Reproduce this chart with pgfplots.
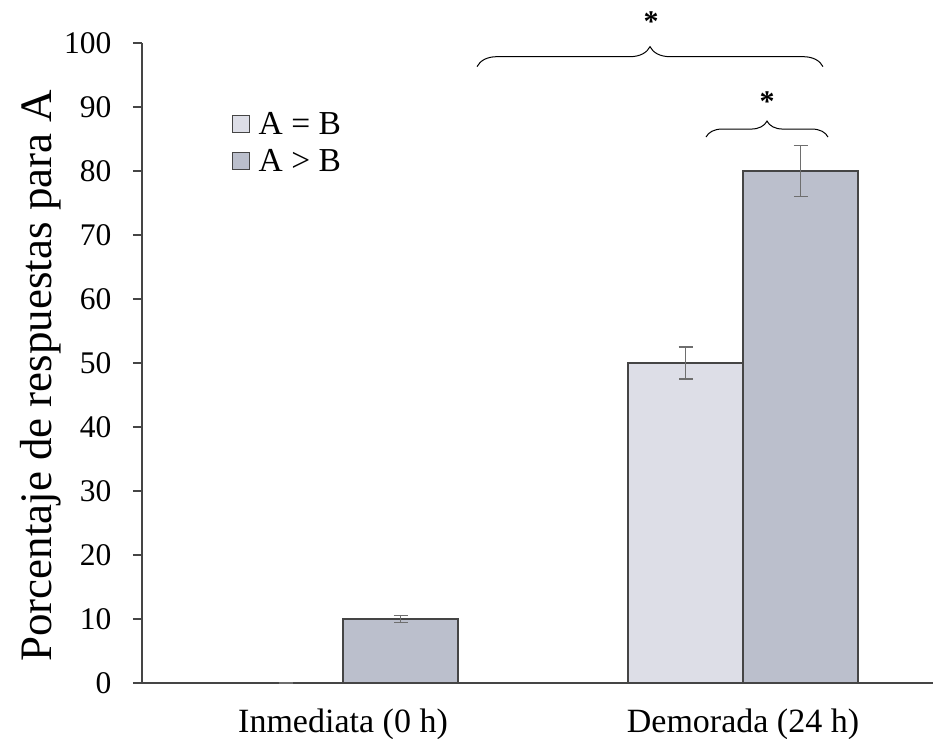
\documentclass[border=0pt]{standalone}
\usepackage{pgfplots}
\pgfplotsset{compat=1.18}
\usepackage{fontspec}
\setmainfont{Liberation Serif}
\usetikzlibrary{decorations.pathreplacing}
\definecolor{cAeqB}{HTML}{DDDEE7}
\definecolor{cAgtB}{HTML}{BBBFCC}
\definecolor{cEdge}{HTML}{454545}
\definecolor{cErr}{HTML}{6E6E6E}
\begin{document}
\begin{tikzpicture}
\begin{axis}[
  scale only axis,
  width=791pt, height=640pt,
  xmin=-0.5025, xmax=1.475,
  ymin=0, ymax=100,
  axis lines*=left,
  axis line style={cEdge, line width=1.3pt, -},
  ytick={0,10,...,100},
  xtick={0,1},
  xticklabels={Inmediata (0 h), Demorada (24 h)},
  x tick style={draw=none},
  y tick style={cEdge, line width=1.1pt},
  tick align=outside,
  major tick length=9pt,
  /pgf/number format/assume math mode=true,
  yticklabel style={font=\fontsize{31.5}{34}\selectfont, text=black, xshift=-18pt},
  xticklabel style={font=\fontsize{34}{36}\selectfont, text=black, yshift=-13pt},
  ylabel={Porcentaje de respuestas para A},
  ylabel style={font=\fontsize{45}{47}\selectfont, at={(ticklabel cs:0.48)}, yshift=-4pt},
  ybar=0pt,
  bar width=115pt,
  clip=false,
  legend style={draw=none, fill=none, at={(rel axis cs:0.113,0.895)}, anchor=north west,
    font=\fontsize{33.5}{36}\selectfont, row sep=9pt, inner sep=0pt},
  legend cell align=left,
  legend image code/.code={\draw[#1, line width=1pt] (0pt,-8.5pt) rectangle (17pt,8.5pt); \path (24pt,0pt);},
]
\addplot[fill=cAeqB, draw=cEdge, line width=1.3pt,
  error bars/.cd, y dir=both, y explicit,
  error bar style={cErr, line width=1.2pt},
  error mark options={rotate=90, mark size=7pt, cErr, line width=1.2pt}]
  coordinates {(0,0) +- (0,0) (1,50) +- (0,2.5)};
\addlegendentry{A = B}
\addplot[fill=cAgtB, draw=cEdge, line width=1.3pt,
  error bars/.cd, y dir=both, y explicit,
  error bar style={cErr, line width=1.2pt},
  error mark options={rotate=90, mark size=7pt, cErr, line width=1.2pt}]
  coordinates {(0,10) +- (0,0.5) (1,80) +- (0,4)};
\addlegendentry{A > B}
% significance brackets
\draw[black, line width=1pt, decorate, decoration={brace, amplitude=20pt}]
  (axis cs:0.335,96.3) -- (axis cs:1.2,96.3);
\node[font=\fontsize{30}{30}\selectfont\bfseries] at (axis cs:0.77,103.4) {*};
\draw[black, line width=1pt, decorate, decoration={brace, amplitude=16pt}]
  (axis cs:0.9075,85.3) -- (axis cs:1.2125,85.3);
\node[font=\fontsize{30}{30}\selectfont\bfseries] at (axis cs:1.06,90.9) {*};
\end{axis}
\pgfresetboundingbox
\path[use as bounding box] ([xshift=-142pt,yshift=-55pt]current axis.south west) rectangle ([yshift=43pt]current axis.north east);
\end{tikzpicture}
\end{document}
